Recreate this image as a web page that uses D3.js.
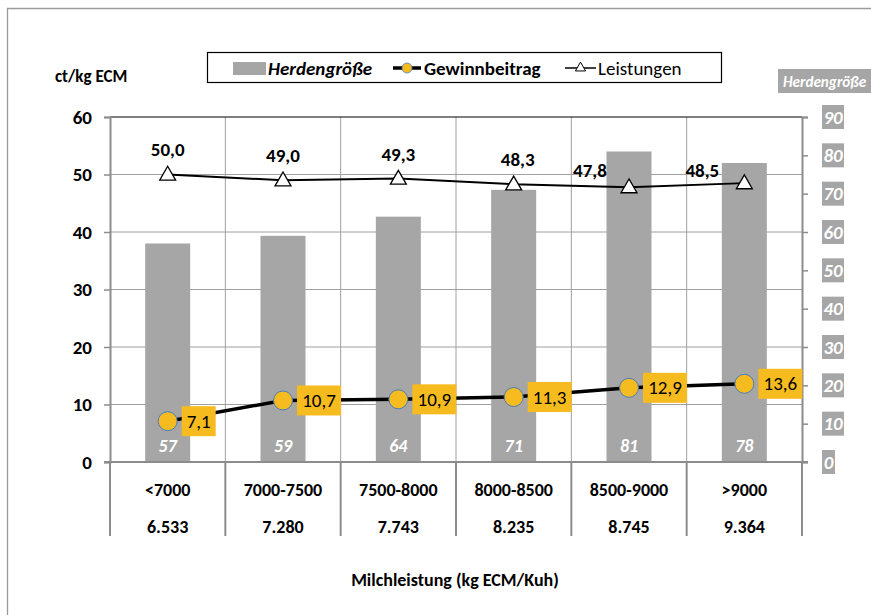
<!DOCTYPE html>
<html>
<head>
<meta charset="utf-8">
<script src="https://cdn.jsdelivr.net/npm/d3@7"></script>
<style>
  html, body { margin: 0; padding: 0; background: #fff; }
  svg { display: block; }
  text { font-family: Carlito, "Liberation Sans Narrow", "Open Sans", sans-serif; }
</style>
</head>
<body>
<svg id="chart" width="871" height="615"></svg>
<script>
// Milk yield classes and their mean yield (kg ECM per cow)
const categories = ["<7000", "7000-7500", "7500-8000", "8000-8500", "8500-9000", ">9000"];
const meanYield = ["6.533", "7.280", "7.743", "8.235", "8.745", "9.364"];
// Herd size (cows), right axis
const herdSize = [57, 59, 64, 71, 81, 78];
// Contribution margin (ct/kg ECM)
const gewinnbeitrag = [7.1, 10.7, 10.9, 11.3, 12.9, 13.6];
// Revenues (ct/kg ECM)
const leistungen = [50.0, 49.0, 49.3, 48.3, 47.8, 48.5];
const leftTicks = [0, 10, 20, 30, 40, 50, 60];
const rightTicks = [0, 10, 20, 30, 40, 50, 60, 70, 80, 90];

const fmt = v => v.toFixed(1).replace(".", ",");
const svg = d3.select("#chart");

const L = 110, R = 802, T = 117, B = 462;
const x = d3.scaleBand().domain(categories).range([L, R]).paddingInner(0).paddingOuter(0);
const yL = d3.scaleLinear().domain([0, 60]).range([B, T]);
const yR = d3.scaleLinear().domain([0, 90]).range([B, T]);

// outer frame
svg.append("path").attr("d", `M7.5,615 V8.5 H871`).attr("fill", "none").attr("stroke", "#9a9a9a").attr("stroke-width", 1.3);

// horizontal grid
svg.append("g").selectAll("line").data(leftTicks.filter(t => t > 0 && t < 60)).join("line")
  .attr("x1", L).attr("x2", R).attr("y1", d => yL(d)).attr("y2", d => yL(d))
  .attr("stroke", "#a0a0a0").attr("stroke-width", 1);
// vertical category dividers, running down through the label table
const bounds = categories.map(c => x(c)).concat([R]);
svg.append("g").selectAll("line").data(bounds.slice(1, -1)).join("line")
  .attr("x1", d => d).attr("x2", d => d).attr("y1", T).attr("y2", B)
  .attr("stroke", "#a0a0a0").attr("stroke-width", 1);
svg.append("g").selectAll("line").data(bounds.slice(0, -1)).join("line")
  .attr("x1", d => d).attr("x2", d => d).attr("y1", B).attr("y2", 536)
  .attr("stroke", "#8c8c8c").attr("stroke-width", 2);
svg.append("line").attr("x1", R).attr("x2", R).attr("y1", B).attr("y2", 536)
  .attr("stroke", "#8c8c8c").attr("stroke-width", 2);
// top border of plot
svg.append("line").attr("x1", L).attr("x2", R).attr("y1", T).attr("y2", T)
  .attr("stroke", "#000").attr("stroke-width", 1.2);

// bars (herd size)
const bw = 45;
svg.append("g").selectAll("rect").data(herdSize).join("rect")
  .attr("x", (d, i) => x(categories[i]) + x.bandwidth() / 2 - bw / 2)
  .attr("width", bw)
  .attr("y", d => yR(d)).attr("height", d => B - yR(d))
  .attr("fill", "#a6a6a6");
svg.append("g").selectAll("text").data(herdSize).join("text")
  .attr("x", (d, i) => x(categories[i]) + x.bandwidth() / 2)
  .attr("y", 452)
  .attr("text-anchor", "middle")
  .attr("font-size", 18).attr("font-weight", "bold").attr("font-style", "italic")
  .attr("fill", "#fff").text(d => d);

// left axis
const gl = svg.append("g").attr("transform", `translate(${L},0)`)
  .call(d3.axisLeft(yL).tickValues(leftTicks).tickSize(6).tickPadding(12));
gl.select(".domain").attr("stroke", "#8c8c8c").attr("stroke-width", 2);
gl.selectAll(".tick line").attr("stroke", "#8c8c8c").attr("stroke-width", 1.5);
gl.selectAll(".tick text").attr("font-size", 19).attr("font-weight", "bold").attr("fill", "#000")
  .style("font-family", 'Carlito, "Liberation Sans Narrow", "Open Sans", sans-serif');

// bottom axis line
svg.append("line").attr("x1", L - 6).attr("x2", R + 6).attr("y1", B).attr("y2", B)
  .attr("stroke", "#8c8c8c").attr("stroke-width", 2);

// right axis
const gr = svg.append("g").attr("transform", `translate(${R},0)`)
  .call(d3.axisRight(yR).tickValues(rightTicks).tickSize(6).tickFormat(""));
gr.select(".domain").attr("stroke", "#8c8c8c").attr("stroke-width", 2);
gr.selectAll(".tick line").attr("stroke", "#8c8c8c").attr("stroke-width", 1.5);
const rt = svg.append("g").selectAll("g").data(rightTicks).join("g")
  .attr("transform", d => `translate(833,${yR(d)})`);
rt.append("rect")
  .attr("x", -11)
  .attr("width", d => d === 0 ? 13 : 22)
  .attr("y", -12).attr("height", 24).attr("fill", "#a6a6a6");
rt.append("text")
  .attr("x", d => d === 0 ? -4.5 : 0)
  .attr("dy", "0.35em").attr("text-anchor", "middle")
  .attr("font-size", 19).attr("font-weight", "bold").attr("font-style", "italic")
  .attr("fill", "#fff").text(d => d);

// right axis title
svg.append("rect").attr("x", 778).attr("y", 69).attr("width", 100).attr("height", 24).attr("fill", "#a6a6a6");
svg.append("text").attr("x", 783).attr("y", 86.5)
  .attr("font-size", 15.2).attr("font-weight", "bold").attr("font-style", "italic")
  .attr("fill", "#fff").text("Herdengröße");

// left axis title
svg.append("text").attr("x", 55).attr("y", 82)
  .attr("font-size", 17).attr("font-weight", "bold").text("ct/kg ECM");

// category table below the plot
const cx = (d, i) => x(categories[i]) + x.bandwidth() / 2;
svg.append("g").selectAll("text").data(categories).join("text")
  .attr("x", cx).attr("y", 496).attr("text-anchor", "middle")
  .attr("font-size", 18).attr("font-weight", "bold").text(d => d);
svg.append("g").selectAll("text").data(meanYield).join("text")
  .attr("x", cx).attr("y", 533).attr("text-anchor", "middle")
  .attr("font-size", 18).attr("font-weight", "bold").text(d => d);
svg.append("text").attr("x", 455).attr("y", 586).attr("text-anchor", "middle")
  .attr("font-size", 18).attr("font-weight", "bold").text("Milchleistung (kg ECM/Kuh)");

// Leistungen line
const ptsL = leistungen.map((v, i) => [cx(v, i), yL(v)]);
svg.append("path").attr("d", d3.line()(ptsL)).attr("fill", "none")
  .attr("stroke", "#000").attr("stroke-width", 2);
const tri = d3.symbol().type(d3.symbolTriangle).size(110);
svg.append("g").selectAll("path").data(ptsL).join("path")
  .attr("d", tri).attr("transform", d => `translate(${d[0]},${d[1] + 1})`)
  .attr("fill", "#fff").attr("stroke", "#000").attr("stroke-width", 1.3);
// value labels; the last two sit to the left of their points
const lOff = [[0, -19], [0, -18], [0, -18], [4, -18], [-39, -10], [-42, -6]];
svg.append("g").selectAll("text").data(leistungen).join("text")
  .attr("x", (d, i) => ptsL[i][0] + lOff[i][0])
  .attr("y", (d, i) => ptsL[i][1] + lOff[i][1])
  .attr("text-anchor", "middle")
  .attr("font-size", 19).attr("font-weight", "bold").text(fmt);

// Gewinnbeitrag line
const ptsG = gewinnbeitrag.map((v, i) => [cx(v, i), yL(v)]);
svg.append("path").attr("d", d3.line()(ptsG)).attr("fill", "none")
  .attr("stroke", "#000").attr("stroke-width", 3.5);
svg.append("g").selectAll("circle").data(ptsG).join("circle")
  .attr("cx", d => d[0]).attr("cy", d => d[1]).attr("r", 9.5)
  .attr("fill", "#F6BB1E").attr("stroke", "#4a7ebb").attr("stroke-width", 1);
const gl2 = svg.append("g").selectAll("g").data(gewinnbeitrag).join("g")
  .attr("transform", (d, i) => `translate(${ptsG[i][0] + 14},${ptsG[i][1]})`);
gl2.append("rect").attr("x", 0).attr("y", -15)
  .attr("width", d => fmt(d).length > 3 ? 44 : 34).attr("height", 30).attr("fill", "#F6BB1E");
gl2.append("text").attr("x", d => (fmt(d).length > 3 ? 44 : 34) / 2).attr("dy", "0.35em")
  .attr("text-anchor", "middle").attr("font-size", 19).text(fmt);

// legend
const lg = svg.append("g");
lg.append("rect").attr("x", 207.5).attr("y", 52.5).attr("width", 514).attr("height", 30)
  .attr("fill", "#fff").attr("stroke", "#000").attr("stroke-width", 1.2);
lg.append("rect").attr("x", 233).attr("y", 62).attr("width", 33).attr("height", 13).attr("fill", "#a6a6a6");
lg.append("text").attr("x", 268).attr("y", 75).attr("font-size", 19)
  .attr("font-weight", "bold").attr("font-style", "italic").text("Herdengröße");
lg.append("line").attr("x1", 393).attr("x2", 421).attr("y1", 68).attr("y2", 68)
  .attr("stroke", "#000").attr("stroke-width", 3.5);
lg.append("circle").attr("cx", 407).attr("cy", 68).attr("r", 5)
  .attr("fill", "#F6BB1E").attr("stroke", "#4a7ebb").attr("stroke-width", 0.8);
lg.append("text").attr("x", 424).attr("y", 75).attr("font-size", 19)
  .attr("font-weight", "bold").text("Gewinnbeitrag");
lg.append("line").attr("x1", 565).attr("x2", 596).attr("y1", 68).attr("y2", 68)
  .attr("stroke", "#000").attr("stroke-width", 1.5);
lg.append("path").attr("d", d3.symbol().type(d3.symbolTriangle).size(45))
  .attr("transform", "translate(580.5,68)")
  .attr("fill", "#fff").attr("stroke", "#000").attr("stroke-width", 1);
lg.append("text").attr("x", 598).attr("y", 75).attr("font-size", 19).text("Leistungen");
</script>
</body>
</html>
